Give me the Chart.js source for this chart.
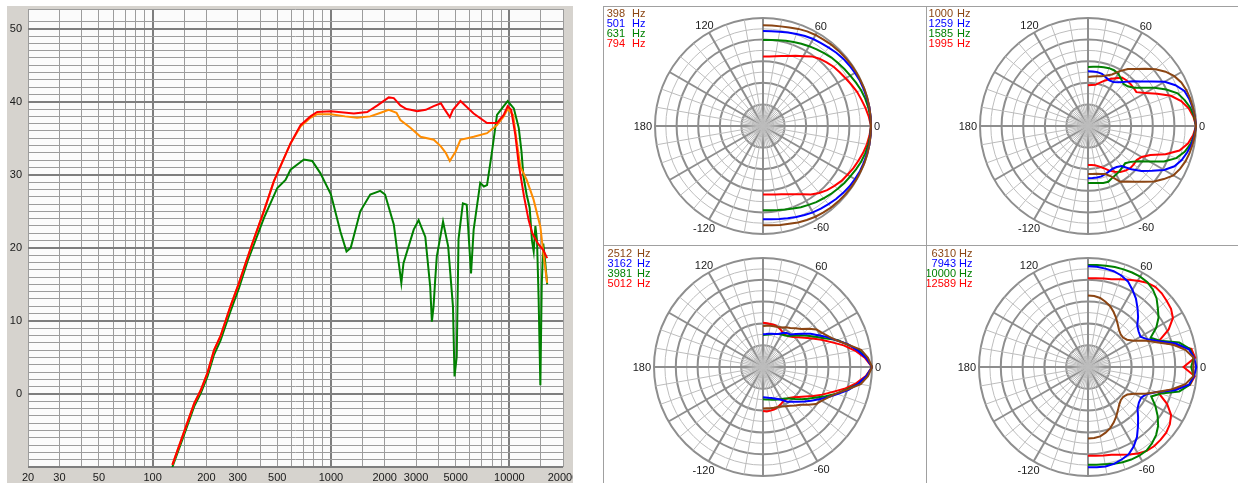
<!DOCTYPE html>
<html>
<head>
<meta charset="utf-8">
<title>Frequency response and polar response</title>
<script src="https://cdn.jsdelivr.net/npm/chart.js"></script>
<style>
  html, body { margin: 0; padding: 0; background: #ffffff; }
  body { width: 1238px; height: 483px; position: relative; overflow: hidden; }
  #respBox { position: absolute; left: 7px; top: 6px; width: 566px; height: 477px; background: #d6d3ce; }
  #resp { position: absolute; left: 0; top: 0; }
  .rule { position: absolute; background: #a0a0a0; }
  .polar { position: absolute; }
</style>
</head>
<body>
<div id="respBox"><canvas id="resp" width="566" height="477"></canvas></div>

<div class="rule" style="left:603px; top:6px; width:1px; height:477px;"></div>
<div class="rule" style="left:603px; top:6px; width:635px; height:1px;"></div>
<div class="rule" style="left:603px; top:245px; width:635px; height:1px;"></div>
<div class="rule" style="left:926px; top:6px; width:1px; height:477px;"></div>

<canvas class="polar" id="polarA" width="319" height="238" style="left:604px; top:7px;"></canvas>
<canvas class="polar" id="polarB" width="322" height="238" style="left:927px; top:7px;"></canvas>
<canvas class="polar" id="polarC" width="319" height="240" style="left:604px; top:247px;"></canvas>
<canvas class="polar" id="polarD" width="322" height="240" style="left:927px; top:247px;"></canvas>

<script>
// ---------------- Frequency response (dB vs Hz) ----------------
const redHz = [129,150,171,186,203,221,240,273,305,332,362,420,478,500,593,675,767,837,1000,1343,1596,1822,2109,2250,2450,2650,2800,3040,3400,3767,4130,4300,4637,4830,5320,6310,7500,8530,9300,9790,10240,10800,11300,12100,12830,13460,14450,15500,16300];
const redDb = [-9.7,-5.2,-1.3,0.5,2.9,6.0,7.9,12.0,15.2,17.9,20.6,25.0,29.1,30.2,34.3,36.8,38.0,38.6,38.7,38.4,38.6,39.5,40.6,40.5,39.5,39.0,38.9,38.7,38.9,39.4,39.8,39.1,37.9,38.9,40.1,38.4,37.1,37.1,38.2,39.4,38.9,35.5,31.4,27.0,23.8,22.0,20.6,19.7,18.6];

const orangeHz = [129,150,171,186,203,221,240,273,305,332,362,420,478,500,593,675,767,837,1000,1200,1400,1660,1900,2109,2330,2450,2800,3177,3770,4130,4400,4637,5000,5320,6310,7500,8530,9300,9790,10500,11000,11530,12520,13680,14930,15600,16300];
const orangeDb = [-9.7,-5.2,-1.3,0.5,2.9,6.0,7.9,12.0,15.2,17.9,20.6,25.0,29.1,30.2,34.3,36.6,37.8,38.3,38.3,38.0,37.8,38.0,38.5,38.9,38.5,37.5,36.4,35.2,34.8,33.9,33.0,31.9,33.2,34.8,35.2,35.7,36.8,38.0,39.0,38.2,34.6,31.1,29.3,26.6,22.9,18.8,15.2];

const greenHz = [129,150,171,186,203,221,240,273,305,340,421,500,556,593,705,785,873,1000,1130,1222,1290,1460,1660,1890,2010,2250,2480,2550,2910,3100,3380,3600,3680,3760,3840,3920,4250,4540,4830,4930,5070,5190,5490,5770,6100,6310,6870,7200,7500,8000,8530,9300,9790,10600,11300,11700,12000,12500,13000,13400,13700,14000,14300,14600,14930,15200,15500,15900,16300];
const greenDb = [-10.0,-5.6,-1.7,0.1,2.4,5.4,7.3,11.3,14.5,18.1,24.1,28.2,29.3,30.7,32.1,31.9,30.2,27.3,22.2,19.5,20.0,25.0,27.3,27.8,27.3,23.2,15.2,17.9,22.5,23.8,21.5,14.7,9.9,12.0,15.6,18.8,23.6,20.2,12.0,2.4,5.1,21.2,26.1,25.9,16.5,22.5,28.9,28.4,28.6,33.2,38.2,39.4,40.1,39.1,36.4,33.2,29.8,27.3,25.5,21.0,19.5,23.0,21.0,13.0,1.2,15.0,20.6,18.0,15.0];

const freqGrid = [20,30,40,50,60,70,80,90,100,150,200,300,400,500,600,700,800,900,1000,1500,2000,3000,4000,5000,6000,7000,8000,9000,10000,15000,20000];
const freqLabels = [20,30,50,100,200,300,500,1000,2000,3000,5000,10000,20000];
const freqDecades = [100,1000,10000];
const levelLabels = [0,10,20,30,40,50];

// ---------------- Polar responses (dB, 0 dB on axis) ----------------
const sweepAngles = [90,85,80,75,70,65,60,55,50,45,40,35,30,25,20,15,10,5,0,-5,-10,-15,-20,-25,-30,-35,-40,-45,-50,-55,-60,-65,-70,-75,-80,-85,-90];
const angleTicks = [0,60,120,180,-120,-60];
const polarColors = ['#8b4513','#0000ff','#008000','#ff0000'];

const freqsA = [398,501,631,794];
const polar398 = [-2.0,-2.0,-1.9,-1.7,-1.3,-1.0,-0.8,-0.7,-0.5,-0.4,-0.3,-0.2,-0.1,-0.1,0,0,0,0,0,0,0,0,0,-0.1,-0.1,-0.2,-0.3,-0.4,-0.5,-0.7,-0.9,-1.2,-1.5,-1.9,-2.1,-2.3,-2.4];
const polar501 = [-3.6,-3.6,-3.4,-3.1,-2.8,-2.4,-2.1,-1.9,-1.6,-1.2,-0.9,-0.7,-0.5,-0.3,-0.2,-0.1,0,0,0,0,0,-0.1,-0.2,-0.3,-0.5,-0.7,-1.0,-1.3,-1.7,-2.0,-2.3,-2.7,-3.1,-3.5,-3.8,-4.0,-4.1];
const polar631 = [-6.1,-6.0,-5.8,-5.5,-5.2,-4.8,-4.4,-4.0,-3.6,-3.1,-2.8,-2.4,-2.0,-1.5,-1.0,-0.6,-0.3,-0.1,0,-0.1,-0.3,-0.6,-1.0,-1.5,-2.0,-2.4,-2.9,-3.3,-3.8,-4.2,-4.7,-5.1,-5.6,-6.0,-6.3,-6.5,-6.6];
const polar794 = [-10.7,-10.6,-10.3,-9.9,-9.3,-8.5,-7.6,-6.4,-5.6,-5.0,-4.4,-4.0,-3.5,-2.9,-2.2,-1.7,-1.1,-0.5,0,-0.3,-0.7,-1.2,-1.8,-2.3,-2.9,-3.4,-4.1,-4.8,-5.7,-6.8,-8.1,-9.1,-9.8,-10.4,-10.7,-10.9,-11.0];

const freqsB = [1000,1259,1585,1995];
const polar1000 = [-16.4,-16.2,-16.0,-15.7,-15.1,-14.2,-12.4,-10.7,-9.3,-7.5,-5.5,-3.7,-2.3,-1.4,-0.9,-0.6,-0.4,-0.2,0,-0.2,-0.5,-0.8,-1.2,-1.8,-2.6,-4.3,-6.0,-8.1,-9.8,-11.2,-12.1,-14.5,-15.8,-16.2,-16.5,-16.6,-16.7];
const polar1259 = [-14.8,-14.8,-14.8,-15.0,-15.6,-16.0,-15.9,-15.2,-14.0,-12.4,-10.8,-8.4,-5.4,-3.2,-1.5,-0.9,-0.5,-0.2,0,-0.3,-0.8,-1.5,-2.3,-3.5,-5.6,-8.3,-10.6,-13.0,-15.5,-16.1,-16.3,-16.1,-15.8,-15.5,-15.5,-15.5,-15.5];
const polar1585 = [-13.6,-13.5,-13.3,-13.1,-12.9,-12.9,-13.2,-14.0,-14.7,-14.4,-13.5,-11.5,-8.7,-6.0,-3.5,-2.2,-1.1,-0.4,0,-0.4,-1.1,-2.2,-3.9,-6.7,-10.3,-12.9,-14.5,-15.4,-15.1,-14.7,-14.4,-14.1,-13.5,-13.6,-13.9,-14.1,-14.2];
const polar1995 = [-18.7,-18.6,-18.4,-17.6,-16.6,-15.6,-14.7,-13.6,-13.4,-13.4,-13.5,-13.6,-11.6,-8.8,-5.5,-3.2,-1.6,-0.6,0,-0.7,-1.8,-3.7,-7.1,-10.9,-12.8,-13.5,-13.4,-13.4,-13.8,-14.4,-15.3,-16.4,-17.6,-18.4,-18.9,-19.1,-19.2];

const freqsC = [2512,3162,3981,5012];
const polar2512 = [-18.7,-18.6,-18.5,-18.4,-18.3,-18.0,-17.4,-16.9,-16.1,-15.2,-13.6,-12.0,-11.2,-10.1,-8.5,-5.9,-2.6,-1.0,0,-1.0,-2.7,-6.0,-8.6,-10.2,-11.4,-12.2,-13.8,-15.3,-16.2,-17.0,-17.5,-18.0,-18.3,-18.4,-18.5,-18.6,-18.6];
const polar3162 = [-21.0,-20.9,-20.7,-20.5,-20.3,-20.0,-19.2,-18.6,-18.3,-17.2,-15.8,-14.0,-12.5,-10.5,-8.5,-5.8,-3.6,-1.5,0,-1.4,-3.4,-5.6,-8.2,-10.3,-12.2,-13.8,-15.2,-16.5,-17.5,-18.3,-19.5,-20.3,-20.8,-21.2,-21.4,-21.6,-21.7];
const polar3981 = [-21.2,-21.1,-20.9,-20.6,-20.3,-20.0,-19.7,-19.4,-18.9,-17.7,-16.4,-15.0,-13.3,-11.3,-8.3,-6.0,-3.2,-1.3,0,-1.3,-3.3,-6.1,-8.5,-11.0,-13.2,-14.8,-16.2,-17.5,-18.7,-19.4,-19.8,-20.1,-20.4,-20.7,-20.9,-21.0,-21.1];
const polar5012 = [-17.8,-17.9,-18.0,-18.0,-18.2,-18.6,-19.1,-19.2,-19.0,-18.3,-17.3,-16.0,-14.3,-12.3,-10.0,-7.0,-4.2,-1.8,0,-1.6,-4.0,-6.8,-9.8,-12.0,-14.0,-15.8,-17.2,-18.2,-18.9,-19.2,-19.0,-18.6,-18.2,-17.9,-17.8,-17.7,-17.9];

const freqsD = [6310,7943,10000,12589];
const polar6310 = [-10.3,-10.4,-10.7,-11.4,-12.2,-13.3,-14.5,-15.7,-16.7,-17.3,-17.4,-16.9,-15.5,-12.8,-10.0,-6.0,-2.8,-0.8,-1.0,-0.9,-2.8,-6.2,-9.8,-12.6,-15.3,-16.8,-17.3,-17.2,-16.6,-15.6,-14.4,-13.2,-12.1,-11.3,-10.6,-10.4,-10.3];
const polar7943 = [-2.25,-2.3,-2.5,-2.7,-3.2,-4.0,-5.5,-7.0,-8.8,-10.5,-12.3,-13.0,-13.3,-12.0,-9.2,-5.0,-1.8,-0.7,-0.2,-0.7,-1.8,-5.2,-9.8,-12.3,-13.1,-12.9,-12.2,-10.5,-8.6,-6.5,-4.8,-3.5,-2.9,-2.4,-2.2,-2.3,-2.4];
const polar10000 = [-1.9,-1.8,-1.7,-1.5,-1.4,-1.3,-1.3,-1.5,-2.2,-3.3,-4.9,-6.3,-8.3,-11.0,-8.9,-4.0,-1.5,-0.8,-1.6,-0.8,-1.6,-4.0,-8.6,-10.8,-8.6,-6.6,-4.8,-3.5,-2.6,-1.9,-1.8,-1.9,-2.1,-2.4,-2.8,-3.0,-3.1];
const polar12589 = [-5.6,-5.5,-5.3,-5.0,-4.3,-3.5,-2.6,-1.7,-1.2,-1.3,-1.7,-2.1,-3.0,-5.5,-9.3,-6.0,-1.1,-0.4,-3.7,-0.5,-1.5,-6.0,-9.4,-6.0,-3.6,-2.5,-1.9,-1.7,-1.6,-1.8,-2.5,-3.4,-4.3,-5.0,-5.3,-5.5,-5.6];

// ---------------- shared styling ----------------
const FONT = '"Liberation Sans", Arial, sans-serif';
Chart.defaults.font.family = FONT;
Chart.defaults.font.size = 11;
Chart.defaults.color = '#1a1a1a';

const GRID_MAJOR = '#7e7e7e';
const GRID_MINOR = '#9c9c9c';

const plotBackground = {
  id: 'plotBackground',
  beforeDraw(chart) {
    const { ctx, chartArea: a } = chart;
    ctx.save();
    ctx.fillStyle = '#fbfbfb';
    ctx.fillRect(a.left, a.top, a.right - a.left, a.bottom - a.top);
    ctx.restore();
  }
};

function pairs(xs, ys) { return xs.map((x, i) => ({ x, y: ys[i] })); }
function trace(xs, ys, color) {
  return { data: pairs(xs, ys), showLine: true, borderColor: color, borderWidth: 2,
           pointRadius: 0, tension: 0, fill: false };
}
function isDecadeLevel(tick) {
  return !!tick && Number.isInteger(tick.value) && tick.value % 10 === 0;
}

new Chart(document.getElementById('resp'), {
  type: 'scatter',
  data: { datasets: [
    trace(redHz, redDb, '#ff0000'),
    trace(orangeHz, orangeDb, '#ff8c00'),
    trace(greenHz, greenDb, '#008000')
  ] },
  options: {
    responsive: false,
    animation: false,
    layout: { padding: { top: 3, right: 10, left: 0, bottom: 0 } },
    plugins: { legend: { display: false }, tooltip: { enabled: false } },
    scales: {
      x: {
        type: 'logarithmic', min: 20, max: 20000,
        afterBuildTicks: s => { s.ticks = freqGrid.map(v => ({ value: v })); },
        afterFit: s => { s.height = 16; s.paddingLeft = 0; s.paddingRight = 0; },
        ticks: { autoSkip: false, maxRotation: 0, minRotation: 0, padding: 4,
                 callback: v => freqLabels.includes(v) ? String(v) : '' },
        grid: { drawTicks: false,
                color: c => freqDecades.includes(c.tick && c.tick.value) ? GRID_MAJOR : GRID_MINOR,
                lineWidth: c => freqDecades.includes(c.tick && c.tick.value) ? 2 : 1 },
        border: { display: false }
      },
      y: {
        min: -10, max: 52.7,
        afterFit: s => { s.width = 21; s.paddingTop = 0; s.paddingBottom = 0; },
        ticks: { stepSize: 1, autoSkip: false, padding: 6,
                 callback: v => levelLabels.includes(v) ? String(v) : '' },
        grid: { drawTicks: false,
                color: c => isDecadeLevel(c.tick) ? GRID_MAJOR : GRID_MINOR,
                lineWidth: c => isDecadeLevel(c.tick) ? 2 : 1 },
        border: { display: false }
      }
    }
  },
  plugins: [plotBackground]
});

// ---------------- polar panels ----------------
const SPOKES = 72;          // 5 degree spokes round the circle
const RING_THICK = '#8e8e8e';
const RING_THIN = '#bdbdbd';

function spokeIndex(a) { return ((-a / 5) % SPOKES + SPOKES) % SPOKES; }

const polarDecor = {
  id: 'polarDecor',
  beforeDatasetsDraw(chart) {
    const s = chart.scales.r, ctx = chart.ctx;
    ctx.save();
    ctx.strokeStyle = RING_THIN;
    ctx.lineWidth = 1;
    for (let i = 1; i < SPOKES; i += 2) {
      const p = s.getPointPositionForValue(i, -24);
      ctx.beginPath();
      ctx.moveTo(s.xCenter, s.yCenter);
      ctx.lineTo(p.x, p.y);
      ctx.stroke();
    }
    ctx.restore();
  },
  afterDraw(chart, args, opts) {
    const s = chart.scales.r, ctx = chart.ctx;
    ctx.save();
    ctx.font = '11px ' + FONT;
    ctx.textBaseline = 'middle';
    ctx.textAlign = 'center';
    ctx.fillStyle = '#1a1a1a';
    angleTicks.forEach(a => {
      const text = String(a);
      const w = ctx.measureText(text).width;
      const d = s.drawingArea + 6 + Math.max(0, w / 2 - 3) * Math.abs(Math.cos(a * Math.PI / 180));
      const p = s.getPointPosition(spokeIndex(a), d);
      ctx.fillText(text, p.x, p.y + 1);
    });
    chart.data.datasets.forEach((ds, k) => {
      const y = 6.5 + 10 * k;
      ctx.fillStyle = ds.borderColor;
      ctx.textAlign = 'right';
      ctx.fillText(String(opts.freqs[k]), opts.numRight, y);
      ctx.textAlign = 'left';
      ctx.fillText('Hz', opts.hzLeft, y);
    });
    ctx.restore();
  }
};

function makePolar(id, freqs, curves, numRight, hzLeft) {
  const labels = [];
  for (let i = 0; i < SPOKES; i++) {
    let a = -5 * i;
    if (a <= -180) a += 360;
    labels.push(String(a === 0 ? 0 : a));
  }
  const datasets = curves.map((vals, k) => {
    const ring = new Array(SPOKES).fill(null);
    sweepAngles.forEach((a, j) => { ring[spokeIndex(a)] = vals[j]; });
    return { label: freqs[k] + ' Hz', data: ring, borderColor: polarColors[k], backgroundColor: polarColors[k],
             borderWidth: 2, pointRadius: 0, fill: false, tension: 0, spanGaps: false };
  });
  return new Chart(document.getElementById(id), {
    type: 'radar',
    data: { labels, datasets },
    options: {
      responsive: false,
      animation: false,
      layout: { padding: 11 },
      plugins: { legend: { display: false }, tooltip: { enabled: false },
                 polarDecor: { freqs, numRight, hzLeft } },
      scales: {
        r: {
          min: -30, max: 0, startAngle: 90,
          ticks: { display: false, stepSize: 3 },
          pointLabels: { display: false },
          grid: { circular: true,
                  color: c => (Math.round(c.tick.value) % 6 === 0) ? RING_THICK : RING_THIN,
                  lineWidth: c => (Math.round(c.tick.value) % 6 === 0) ? 2 : 1 },
          angleLines: { display: true,
                  color: c => c.index % 6 === 0 ? RING_THICK : (c.index % 2 === 0 ? RING_THIN : null),
                  lineWidth: c => c.index % 6 === 0 ? 2 : (c.index % 2 === 0 ? 1 : 0) }
        }
      }
    },
    plugins: [polarDecor]
  });
}

makePolar('polarA', freqsA, [polar398, polar501, polar631, polar794], 21, 28);
makePolar('polarB', freqsB, [polar1000, polar1259, polar1585, polar1995], 26, 30);
makePolar('polarC', freqsC, [polar2512, polar3162, polar3981, polar5012], 28, 33);
makePolar('polarD', freqsD, [polar6310, polar7943, polar10000, polar12589], 29, 32);
</script>
</body>
</html>
